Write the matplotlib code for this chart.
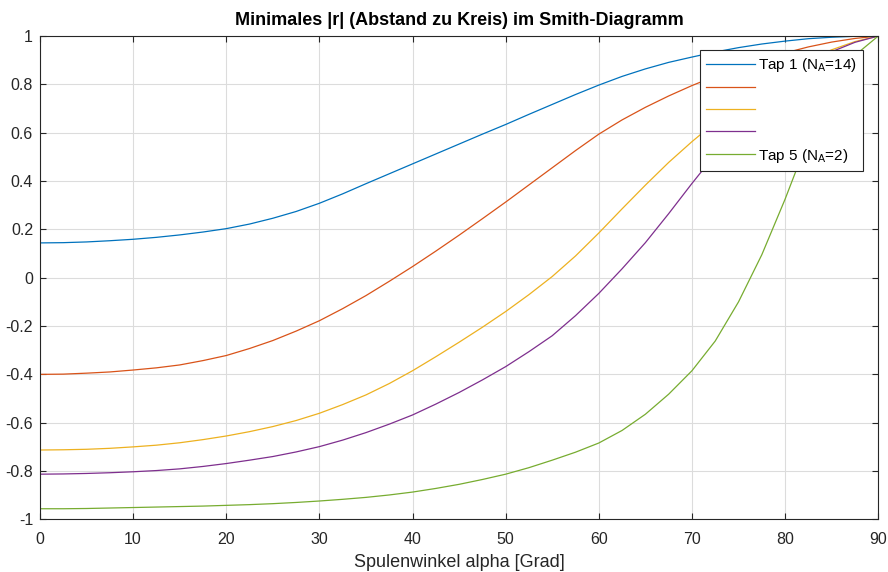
import matplotlib
matplotlib.use('Agg')
import matplotlib.pyplot as plt
from matplotlib.ticker import FuncFormatter

plt.rcParams['font.family'] = ['Liberation Sans', 'DejaVu Sans']
plt.rcParams['mathtext.fontset'] = 'custom'
plt.rcParams['mathtext.rm'] = 'Liberation Sans'
plt.rcParams['mathtext.default'] = 'regular'
plt.rcParams['axes.unicode_minus'] = False

# Spulenwinkel in Grad, Schritt 2.5
alpha = [0, 2.5, 5, 7.5, 10, 12.5, 15, 17.5, 20, 22.5, 25, 27.5, 30,
         32.5, 35, 37.5, 40, 42.5, 45, 47.5, 50, 52.5, 55, 57.5, 60,
         62.5, 65, 67.5, 70, 72.5, 75, 77.5, 80, 82.5, 85, 87.5, 90]

# minimales |r| je Tap
tap1 = [0.144, 0.145, 0.148, 0.153, 0.159, 0.167, 0.177, 0.189, 0.203, 0.222,
        0.246, 0.274, 0.308, 0.347, 0.389, 0.430, 0.471, 0.512, 0.553, 0.594,
        0.634, 0.676, 0.717, 0.758, 0.797, 0.833, 0.864, 0.891, 0.913, 0.934,
        0.952, 0.967, 0.979, 0.989, 0.995, 0.999, 1.0]
tap2 = [-0.400, -0.399, -0.395, -0.390, -0.382, -0.373, -0.361, -0.343, -0.322,
        -0.293, -0.260, -0.221, -0.178, -0.128, -0.074, -0.015, 0.046, 0.110,
        0.176, 0.244, 0.313, 0.384, 0.455, 0.526, 0.594, 0.653, 0.705, 0.752,
        0.795, 0.834, 0.870, 0.902, 0.930, 0.955, 0.975, 0.990, 1.0]
tap3 = [-0.713, -0.712, -0.710, -0.706, -0.700, -0.693, -0.683, -0.670, -0.655,
        -0.637, -0.616, -0.591, -0.561, -0.525, -0.485, -0.438, -0.385, -0.327,
        -0.267, -0.205, -0.140, -0.070, 0.005, 0.090, 0.185, 0.285, 0.383, 0.477,
        0.563, 0.643, 0.717, 0.785, 0.847, 0.900, 0.943, 0.977, 1.0]
tap4 = [-0.813, -0.812, -0.810, -0.807, -0.803, -0.798, -0.791, -0.781, -0.769,
        -0.755, -0.740, -0.721, -0.699, -0.672, -0.641, -0.606, -0.568, -0.523,
        -0.475, -0.423, -0.368, -0.306, -0.240, -0.157, -0.065, 0.037, 0.145,
        0.265, 0.390, 0.510, 0.620, 0.720, 0.808, 0.880, 0.935, 0.974, 1.0]
tap5 = [-0.956, -0.956, -0.955, -0.953, -0.951, -0.949, -0.947, -0.945, -0.942,
        -0.939, -0.935, -0.930, -0.924, -0.917, -0.909, -0.899, -0.887, -0.872,
        -0.855, -0.835, -0.813, -0.786, -0.755, -0.722, -0.684, -0.632, -0.565,
        -0.482, -0.385, -0.262, -0.100, 0.095, 0.325, 0.575, 0.780, 0.920, 1.0]

series = [tap1, tap2, tap3, tap4, tap5]
labels = ['Tap 1 (N$_A$=14)', '', '', '', 'Tap 5 (N$_A$=2)']
colors = ['#0072BD', '#D95319', '#EDB120', '#7E2F8E', '#77AC30']

fig = plt.figure(figsize=(8.88, 5.72), dpi=100)
ax = fig.add_axes([0.045, 0.092, 0.944, 0.845])

handles = []
for y, c in zip(series, colors):
    h, = ax.plot(alpha, y, color=c, lw=0.9)
    handles.append(h)

ax.set_xlim(0, 90)
ax.set_ylim(-1, 1)
ax.set_xticks(range(0, 91, 10))
ax.set_yticks([-1, -0.8, -0.6, -0.4, -0.2, 0, 0.2, 0.4, 0.6, 0.8, 1])
ax.yaxis.set_major_formatter(FuncFormatter(lambda v, p: '%g' % round(v, 2)))
ax.grid(True, color='#dcdcdc', lw=0.8)
ax.set_axisbelow(True)

ax.tick_params(direction='in', length=4, width=0.8, top=True, right=True,
               labelsize=11.5, colors='#262626', pad=5)
ax.tick_params(axis='x', pad=9)
for s in ax.spines.values():
    s.set_color('#262626')
    s.set_linewidth(0.8)

ax.set_xlabel('Spulenwinkel alpha [Grad]', fontsize=13, color='#262626', labelpad=5)
ax.set_title('Minimales |r| (Abstand zu Kreis) im Smith-Diagramm',
             fontsize=13, fontweight='bold', pad=8)

leg = ax.legend(handles, labels, loc='upper right', bbox_to_anchor=(0.982, 0.971),
                borderaxespad=0, fontsize=11, fancybox=False, framealpha=1,
                edgecolor='#262626', handlelength=3.2, handletextpad=0.2,
                labelspacing=0.5, borderpad=0.4)
leg.get_frame().set_linewidth(0.8)

fig.savefig('out.png', dpi=100)
